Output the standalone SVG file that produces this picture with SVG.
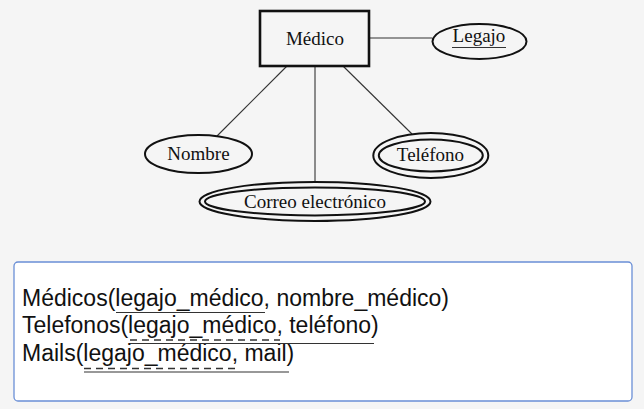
<svg xmlns="http://www.w3.org/2000/svg" width="644" height="409" viewBox="0 0 644 409">
<style>
  .ent { fill: none; stroke: #111; stroke-width: 2.6; }
  .att { fill: none; stroke: #111; stroke-width: 2; }
  .conn { stroke: #333; stroke-width: 1.1; fill: none; }
  .lbl { font-family: "Liberation Serif", "Times New Roman", serif; font-size: 19px; fill: #111; text-anchor: middle; }
  .rel { font-family: "Liberation Sans", Arial, sans-serif; font-size: 23px; fill: #111; }
  .ul { stroke: #333; stroke-width: 1.2; fill: none; }
  .dash { stroke: #333; stroke-width: 1.3; fill: none; stroke-dasharray: 7 5; }
</style>
<rect x="0" y="0" width="644" height="409" fill="#f5f5f5"/>
<g id="connectors">
  <line class="conn" x1="369" y1="38" x2="432" y2="38"/>
  <line class="conn" x1="287" y1="66" x2="217" y2="136"/>
  <line class="conn" x1="315" y1="66" x2="315" y2="182"/>
  <line class="conn" x1="343" y1="66" x2="412" y2="134"/>
</g>
<g id="medico">
  <rect class="ent" x="260" y="11" width="109" height="55"/>
  <text class="lbl" x="315" y="45">Médico</text>
</g>
<g id="legajo">
  <ellipse class="att" cx="479.5" cy="41.5" rx="47" ry="17.5"/>
  <text class="lbl" x="479" y="42">Legajo</text>
  <line class="ul" x1="452" y1="47.5" x2="506" y2="47.5"/>
</g>
<g id="nombre">
  <ellipse class="att" cx="198.5" cy="154" rx="53.5" ry="19"/>
  <text class="lbl" x="198.5" y="160">Nombre</text>
</g>
<g id="telefono">
  <ellipse class="att" cx="430.8" cy="155.5" rx="57.5" ry="22.5"/>
  <ellipse class="att" cx="430.8" cy="155.5" rx="52" ry="16"/>
  <text class="lbl" x="430.5" y="160.5">Teléfono</text>
</g>
<g id="correo">
  <ellipse class="att" cx="315" cy="201.4" rx="115.5" ry="19.5"/>
  <ellipse class="att" cx="315" cy="201.4" rx="110" ry="14"/>
  <text class="lbl" x="315" y="208.3">Correo electrónico</text>
</g>
<g id="relaciones">
  <rect x="14" y="262" width="618" height="139" rx="4" ry="4" fill="#ffffff" stroke="#6a8fd6" stroke-width="1.3"/>
  <text class="rel" x="22" y="305.5">Médicos(legajo_médico, nombre_médico)</text>
  <text class="rel" x="22" y="333">Telefonos(legajo_médico, teléfono)</text>
  <text class="rel" x="22" y="360.5">Mails(legajo_médico, mail)</text>
  <line class="ul" x1="116" y1="312.5" x2="265" y2="312.5"/>
  <line class="dash" x1="130" y1="340" x2="280" y2="340"/>
  <line class="ul" x1="130" y1="343.5" x2="374" y2="343.5"/>
  <line class="dash" x1="84" y1="368.5" x2="236" y2="368.5"/>
  <line class="ul" x1="84" y1="372" x2="289" y2="372"/>
</g>
</svg>
